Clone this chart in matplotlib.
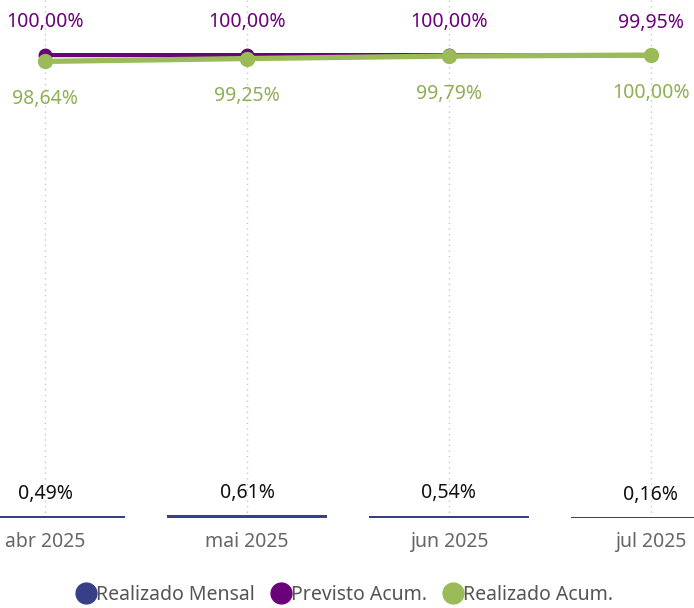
import matplotlib
matplotlib.use("Agg")
import matplotlib.pyplot as plt
from matplotlib.lines import Line2D

plt.rcParams['font.family'] = ['Noto Sans', 'DejaVu Sans']

months = ["abr 2025", "mai 2025", "jun 2025", "jul 2025"]
realizado_mensal = [0.49, 0.61, 0.54, 0.16]
previsto_acum = [100.00, 100.00, 100.00, 99.95]
realizado_acum = [98.64, 99.25, 99.79, 100.00]

C_BAR = "#373F87"
C_PREV = "#6B007B"
C_REAL = "#9BBB59"
FS = 14


def fmt(v):
    return ("%.2f%%" % v).replace(".", ",")


fig = plt.figure(figsize=(6.94, 6.08), dpi=100)
ax = fig.add_axes([0, 90 / 608, 1, 518 / 608])

x = list(range(len(months)))

ax.bar(x, realizado_mensal, width=0.79, color=C_BAR, zorder=2)
ax.plot(x, previsto_acum, color=C_PREV, lw=3, marker="o", ms=9, zorder=3)
ax.plot(x, realizado_acum, color=C_REAL, lw=3.8, marker="o", ms=10, zorder=4)

for i in x:
    ax.annotate(fmt(realizado_mensal[i]), (i, realizado_mensal[i]), xytext=(0, 16),
                textcoords="offset points", ha="center", va="center",
                fontsize=FS, color="#111111")
    ax.annotate(fmt(previsto_acum[i]), (i, previsto_acum[i]), xytext=(0, 23.5),
                textcoords="offset points", ha="center", va="center",
                fontsize=FS, color=C_PREV)
    ax.annotate(fmt(realizado_acum[i]), (i, realizado_acum[i]), xytext=(0, -27),
                textcoords="offset points", ha="center", va="center",
                fontsize=FS, color="#8FAF55")

ax.set_xlim(-0.223, 3.213)
ax.set_ylim(0, 111.9)
ax.set_xticks(x)
ax.set_xticklabels(months, fontsize=FS, color="#666666")
ax.tick_params(axis="x", length=0, pad=10)
ax.set_yticks([])
ax.grid(axis="x", color="#C8C8C8", linestyle=(0, (1, 3)), lw=1, zorder=0)
for s in ax.spines.values():
    s.set_visible(False)

handles = [
    Line2D([], [], ls="", marker="o", ms=15, color=C_BAR, label="Realizado Mensal"),
    Line2D([], [], ls="", marker="o", ms=15, color=C_PREV, label="Previsto Acum."),
    Line2D([], [], ls="", marker="o", ms=15, color=C_REAL, label="Realizado Acum."),
]
leg = fig.legend(handles=handles, loc="center", bbox_to_anchor=(0.497, 13 / 608), ncol=3,
                 frameon=False, fontsize=FS, handlelength=0.9, handletextpad=0.05,
                 columnspacing=0.9, borderaxespad=0)
for t in leg.get_texts():
    t.set_color("#555555")

fig.savefig("out.png", dpi=100)
